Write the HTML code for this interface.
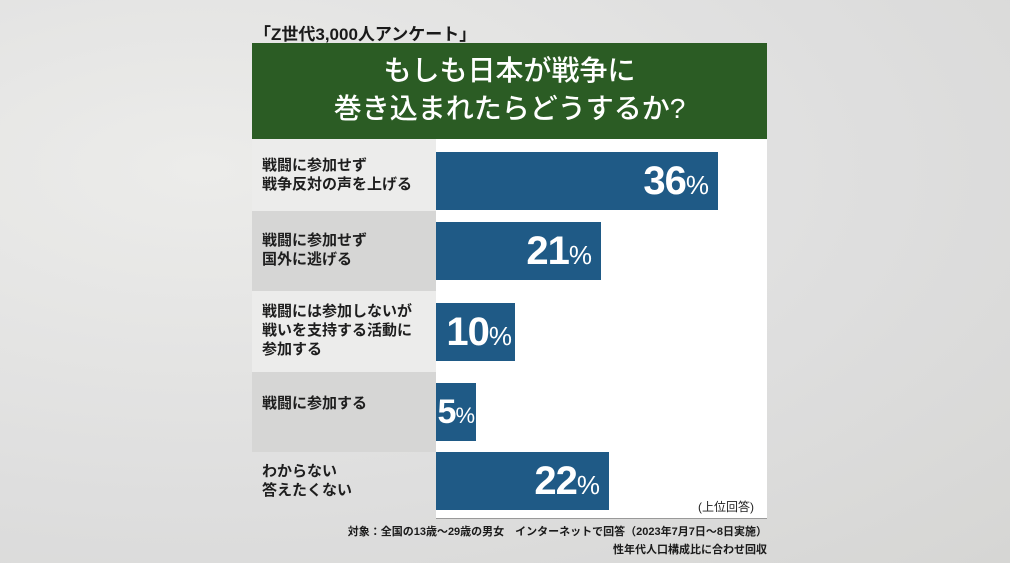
<!DOCTYPE html>
<html><head><meta charset="utf-8"><style>
*{margin:0;padding:0;box-sizing:border-box}
body{width:1010px;height:563px;overflow:hidden;background:#e4e4e2;font-family:"Liberation Sans","Noto Sans CJK JP",sans-serif;position:relative}
.abs{position:absolute}
.bg{left:0;top:0;width:1010px;height:563px;background:radial-gradient(ellipse at 20% 30%,#ececea 0%,#dedede 60%,#d6d6d4 100%)}
.title{left:254px;top:20px;font-size:17px;font-weight:bold;color:#1a1a1a;white-space:nowrap}
.green{left:252px;top:43px;width:515px;height:96px;background:#2b5c24;color:#fff;text-align:center;font-size:28px;line-height:38px;padding-top:9px;font-weight:500}
.white{left:436px;top:139px;width:331px;height:380px;background:#fff;border-bottom:1px solid #999}
.row{left:252px;width:184px}
.lab{left:262px;font-size:15px;line-height:19px;color:#1e1e1e;font-weight:bold}
.bar{left:436px;background:#1f5a86;color:#fff;font-weight:bold;text-align:right;padding-right:10px;font-size:40px;line-height:58px;height:58px;letter-spacing:-1px}
.bar span{font-size:26px;font-weight:normal}
.foot{right:243px;font-size:11px;font-weight:bold;color:#1a1a1a;white-space:nowrap;text-align:right}
</style></head><body>
<div class="abs bg"></div>
<div class="abs title">「Z世代3,000人アンケート」</div>
<div class="abs green">もしも日本が戦争に<br>巻き込まれたらどうするか?</div>
<div class="abs row" style="top:139px;height:72px;background:#ececeb"></div>
<div class="abs row" style="top:211px;height:80px;background:#d6d6d5"></div>
<div class="abs row" style="top:291px;height:81px;background:#ececeb"></div>
<div class="abs row" style="top:372px;height:80px;background:#d6d6d5"></div>
<div class="abs white"></div>
<div class="abs lab" style="top:156px">戦闘に参加せず<br>戦争反対の声を上げる</div>
<div class="abs lab" style="top:231px">戦闘に参加せず<br>国外に逃げる</div>
<div class="abs lab" style="top:302px">戦闘には参加しないが<br>戦いを支持する活動に<br>参加する</div>
<div class="abs lab" style="top:394px">戦闘に参加する</div>
<div class="abs lab" style="top:462px">わからない<br>答えたくない</div>
<div class="abs bar" style="top:152px;width:282px">36<span>%</span></div>
<div class="abs bar" style="top:222px;width:165px">21<span>%</span></div>
<div class="abs bar" style="top:303px;width:79px;padding-right:4px">10<span>%</span></div>
<div class="abs bar" style="top:383px;width:40px;padding-right:2px;font-size:34px">5<span style="font-size:22px">%</span></div>
<div class="abs bar" style="top:452px;width:173px">22<span>%</span></div>
<div class="abs" style="left:698px;top:498px;font-size:12px;color:#222">(上位回答)</div>
<div class="abs foot" style="top:523px">対象：全国の13歳〜29歳の男女　インターネットで回答（2023年7月7日〜8日実施）</div>
<div class="abs foot" style="top:541px">性年代人口構成比に合わせ回収</div>
</body></html>
